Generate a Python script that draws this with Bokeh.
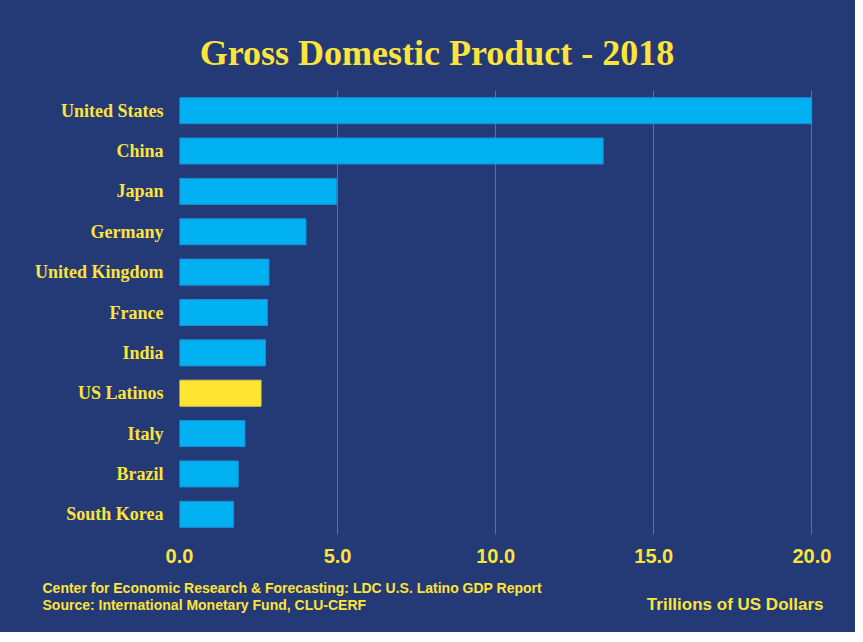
from bokeh.plotting import figure
from bokeh.models import FactorRange, Range1d, Label, ColumnDataSource, NumeralTickFormatter
from bokeh.layouts import column
from bokeh.embed import file_html
from bokeh.resources import INLINE

# ---- data ----
countries = ["United States", "China", "Japan", "Germany", "United Kingdom",
             "France", "India", "US Latinos", "Italy", "Brazil", "South Korea"]
gdp_trillions = [20.0, 13.4, 4.97, 4.0, 2.83, 2.78, 2.72, 2.58, 2.07, 1.86, 1.71]
highlight = "US Latinos"
x_ticks = [0, 5, 10, 15, 20]

title_text = "Gross Domestic Product - 2018"
footer_1 = "Center for Economic Research & Forecasting: LDC U.S.  Latino GDP Report"
footer_2 = "Source: International Monetary Fund, CLU-CERF"
unit_text = "Trillions of US Dollars"

# ---- style ----
BG = "#243a76"
BLUE = "#00b0f0"
BLUE_EDGE = "#1a8fd2"
YELLOW = "#ffe433"
YELLOW_EDGE = "#e2c93a"
TEXT_Y = "#fde43a"
GRID = "#5f6fa3"
W = 855


def blank_panel(h):
    f = figure(width=W, height=h, x_range=Range1d(0, W), y_range=Range1d(h, 0),
               output_backend="svg", toolbar_location=None, frame_align=False,
               min_border=0, min_border_left=0, min_border_right=0,
               min_border_top=0, min_border_bottom=0)
    f.axis.visible = False
    f.grid.visible = False
    f.background_fill_color = BG
    f.border_fill_color = BG
    f.outline_line_color = None
    f.styles = {"background-color": BG}
    return f


def text_label(x, y, text, align, font, size):
    return Label(x=x, y=y, text=text, text_align=align, text_baseline="middle",
                 text_color=TEXT_Y, text_font=font, text_font_style="bold",
                 text_font_size=size)


# header (page y 8..98)
head = blank_panel(90)
head.add_layout(text_label(436.5, 52, title_text, "center", "Liberation Serif", "36px"))

# main chart (page y 98..582)
fills = [YELLOW if c == highlight else BLUE for c in countries]
edges = [YELLOW_EDGE if c == highlight else BLUE_EDGE for c in countries]
src = ColumnDataSource(dict(country=countries, gdp=gdp_trillions, fill=fills, edge=edges))

p = figure(width=W, height=484,
           y_range=FactorRange(factors=countries[::-1]),
           x_range=Range1d(0, 20.02),
           output_backend="svg", toolbar_location=None, frame_align=False,
           min_border_left=179, min_border_right=43,
           min_border_top=0, min_border_bottom=40)
p.styles = {"background-color": BG}

p.hbar(y="country", right="gdp", left=0, height=0.645, source=src,
       fill_color="fill", line_color="edge", line_width=1)

p.background_fill_color = BG
p.border_fill_color = BG
p.outline_line_color = None

p.ygrid.grid_line_color = None
p.xgrid.grid_line_color = GRID
p.xgrid.grid_line_width = 1

p.xaxis.ticker = x_ticks
p.xaxis.formatter = NumeralTickFormatter(format="0.0")
for ax in (p.xaxis, p.yaxis):
    ax.axis_line_color = None
    ax.major_tick_line_color = None
    ax.minor_tick_line_color = None
    ax.major_tick_out = 0
    ax.major_tick_in = 0
    ax.minor_tick_out = 0
    ax.minor_tick_in = 0
    ax.major_label_text_color = TEXT_Y
    ax.major_label_text_font_style = "bold"

p.yaxis.major_label_text_font = "Liberation Serif"
p.yaxis.major_label_text_font_size = "18px"
p.yaxis.major_label_standoff = 16

p.xaxis.major_label_text_font = "Liberation Sans"
p.xaxis.major_label_text_font_size = "20px"
p.xaxis.major_label_standoff = 14

# footer (page y 582..640)
foot = blank_panel(58)
foot.add_layout(text_label(42, 13, footer_1, "left", "Liberation Sans", "14px"))
foot.add_layout(text_label(42, 30, footer_2, "left", "Liberation Sans", "14px"))
foot.add_layout(text_label(823, 30, unit_text, "right", "Liberation Sans", "17px"))

layout = column(head, p, foot, spacing=0, styles={"background-color": BG})
open("out.html", "w").write(file_html(layout, INLINE))
